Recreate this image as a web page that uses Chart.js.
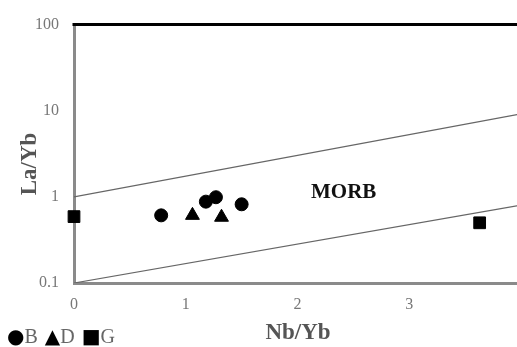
<!DOCTYPE html>
<html>
<head>
<meta charset="utf-8">
<script src="https://cdn.jsdelivr.net/npm/chart.js@4/dist/chart.umd.min.js"></script>
<style>
  html, body { margin:0; padding:0; width:517px; height:347px; overflow:hidden; background:#fff; }
  #wrap { position:relative; width:517px; height:347px; overflow:hidden; }
  canvas { position:absolute; left:0; top:0; width:537px; height:347px; }
  #legend { position:absolute; left:7px; top:325px; font-family:"Liberation Serif", serif; font-size:20px; color:#666; white-space:nowrap; line-height:22px; }
  #legend .s { color:#000; font-family:"DejaVu Sans", sans-serif; font-size:20px; display:inline-block; }
  #legend .g { display:inline-block; margin-right:7px; }
</style>
</head>
<body>
<div id="wrap">
  <canvas id="c" width="537" height="347"></canvas>
  <div id="legend"><span class="g"><span class="s">●</span>B</span><span class="g"><span class="s">▲</span>D</span><span class="g"><span class="s">■</span>G</span></div>
</div>
<script>
// Data
const seriesB = [ {x:0.78, y:0.61}, {x:1.18, y:0.88}, {x:1.27, y:0.99}, {x:1.50, y:0.82} ];
const seriesD = [ {x:1.06, y:0.61}, {x:1.32, y:0.58} ];
const seriesG = [ {x:0.00, y:0.59}, {x:3.63, y:0.50} ];
const upperLine = [ {x:0, y:1.0}, {x:4, y:9.2} ];
const lowerLine = [ {x:0, y:0.1}, {x:4, y:0.8} ];
const yTicks = [0.1, 1, 10, 100];
const xTicks = [0, 1, 2, 3, 4];
const xTitle = 'Nb/Yb';
const yTitle = 'La/Yb';
const fieldLabel = 'MORB';

const serif = '"Liberation Serif", "Times New Roman", serif';

const decor = {
  id: 'decor',
  afterDraw(chart) {
    const {ctx, chartArea} = chart;
    ctx.save();
    // top border
    ctx.strokeStyle = '#000';
    ctx.lineWidth = 3;
    ctx.beginPath();
    ctx.moveTo(chartArea.left - 1.5, chartArea.top);
    ctx.lineTo(chartArea.right + 10, chartArea.top);
    ctx.stroke();
    // titles
    ctx.fillStyle = '#555';
    ctx.font = 'bold 23px ' + serif;
    ctx.textAlign = 'center';
    ctx.textBaseline = 'middle';
    ctx.fillText(xTitle, 298, 333);
    ctx.save();
    ctx.translate(30, 164);
    ctx.rotate(-Math.PI / 2);
    ctx.fillText(yTitle, 0, 0);
    ctx.restore();
    // field label
    ctx.fillStyle = '#111';
    ctx.font = 'bold 21px ' + serif;
    ctx.textAlign = 'left';
    ctx.fillText(fieldLabel, 311, 193);
    ctx.restore();
  }
};

new Chart(document.getElementById('c'), {
  type: 'scatter',
  data: {
    datasets: [
      { label: 'upper', data: upperLine, showLine: true, borderColor: '#666', borderWidth: 1.2, pointRadius: 0, fill: false },
      { label: 'lower', data: lowerLine, showLine: true, borderColor: '#666', borderWidth: 1.2, pointRadius: 0, fill: false },
      { label: 'B', data: seriesB, clip: false, pointStyle: 'circle', pointRadius: 6.5, backgroundColor: '#000', borderColor: '#000', borderWidth: 1 },
      { label: 'D', data: seriesD, clip: false, pointStyle: 'triangle', pointRadius: 8, backgroundColor: '#000', borderColor: '#000', borderWidth: 1 },
      { label: 'G', data: seriesG, clip: false, pointStyle: 'rect', pointRadius: 8.3, backgroundColor: '#000', borderColor: '#000', borderWidth: 1 }
    ]
  },
  options: {
    responsive: false,
    animation: false,
    devicePixelRatio: 1,
    layout: { padding: { top: 16, left: 0, right: 2, bottom: 0 } },
    plugins: { legend: { display: false }, tooltip: { enabled: false } },
    scales: {
      x: {
        type: 'linear', min: 0, max: 4,
        afterBuildTicks: s => { s.ticks = xTicks.map(v => ({value: v})); },
        afterFit: s => { s.height = 64; },
        grid: { display: false, drawTicks: false },
        border: { display: true, color: '#8a8a8a', width: 3 },
        ticks: { color: '#777', font: { family: serif, size: 16 }, padding: 12 }
      },
      y: {
        type: 'logarithmic', min: 0.1, max: 100,
        afterBuildTicks: s => { s.ticks = yTicks.map(v => ({value: v})); },
        afterFit: s => { s.width = 74; },
        grid: { display: false, drawTicks: false },
        border: { display: true, color: '#8a8a8a', width: 3 },
        ticks: { color: '#777', font: { family: serif, size: 16 }, padding: 15, callback: v => String(v) }
      }
    }
  },
  plugins: [decor]
});
</script>
</body>
</html>
